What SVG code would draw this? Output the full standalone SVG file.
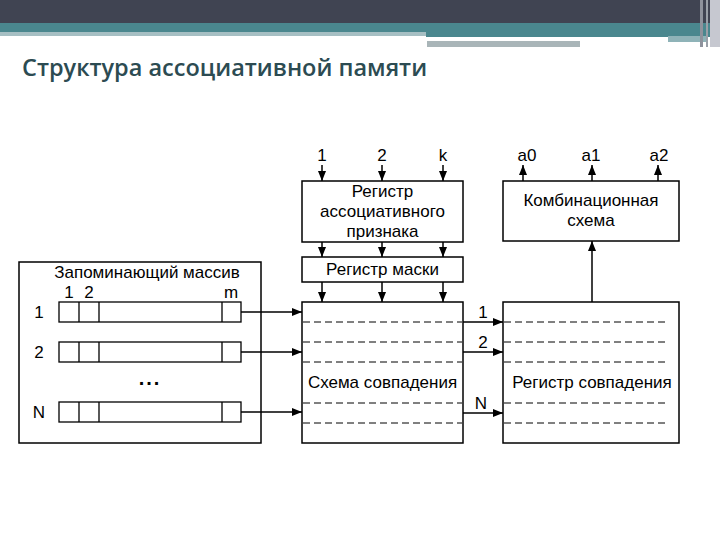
<svg xmlns="http://www.w3.org/2000/svg" width="720" height="540" viewBox="0 0 720 540">
<defs>
<marker id="ah" viewBox="0 0 10 10" refX="10" refY="5" markerWidth="10" markerHeight="10" markerUnits="userSpaceOnUse" orient="auto">
<path d="M0,1 L10,5 L0,9 z" fill="#000"/>
</marker>
<style>
.box{fill:#fff;stroke:#000;stroke-width:1.5}
.cell{fill:none;stroke:#000;stroke-width:1.3}
.t{font-family:"Liberation Sans",Arial,sans-serif;font-size:17px;fill:#000;text-anchor:middle}
.c{stroke:#000;stroke-width:1.5;fill:none;marker-end:url(#ah)}
.d{stroke:#000;stroke-width:1;stroke-dasharray:7,4;fill:none}
</style>
</defs>
<rect width="720" height="540" fill="#fff"/>
<g id="header">
<rect x="0" y="0" width="720" height="23" fill="#404452"/>
<rect x="0" y="23" width="720" height="11" fill="#4a878e"/>
<rect x="0" y="32" width="426" height="4" fill="#a6bfc3"/>
<rect x="426" y="34" width="284" height="3" fill="#4a878e"/>
<rect x="427" y="37" width="241" height="3" fill="#ffffff"/>
<rect x="668" y="36" width="40" height="6" fill="#8fb3b8"/>
<rect x="427" y="41" width="153" height="6" fill="#a9b5b8"/>
<rect x="700" y="0" width="3" height="47" fill="#8e929c"/>
<rect x="706" y="0" width="2" height="47" fill="#9aa0a8"/>
<rect x="710" y="0" width="10" height="47" fill="#c6c8d0"/>
</g>
<text x="22" y="76" font-family="'Open Sans','Noto Sans',sans-serif" font-weight="600" font-size="23.5" fill="#2c4b52">Структура ассоциативной памяти</text>

<g id="reg-assoc">
<rect class="box" x="302" y="181" width="161" height="61"/>
<text class="t" x="382.5" y="197">Регистр</text>
<text class="t" x="382.5" y="217">ассоциативного</text>
<text class="t" x="382.5" y="237">признака</text>
</g>
<g id="reg-mask">
<rect class="box" x="302" y="257" width="161" height="25"/>
<text class="t" x="382.5" y="275">Регистр маски</text>
</g>
<g id="match-scheme">
<rect class="box" x="302" y="302" width="161" height="141"/>
<line class="d" x1="303" y1="322" x2="462" y2="322"/>
<line class="d" x1="303" y1="342" x2="462" y2="342"/>
<line class="d" x1="303" y1="362" x2="462" y2="362"/>
<line class="d" x1="303" y1="403" x2="462" y2="403"/>
<line class="d" x1="303" y1="423" x2="462" y2="423"/>
<text class="t" x="382.5" y="388">Схема совпадения</text>
</g>
<g id="match-reg">
<rect class="box" x="503" y="302" width="176" height="141"/>
<line class="d" x1="504" y1="322" x2="668" y2="322"/>
<line class="d" x1="504" y1="342" x2="668" y2="342"/>
<line class="d" x1="504" y1="362" x2="668" y2="362"/>
<line class="d" x1="504" y1="403" x2="668" y2="403"/>
<line class="d" x1="504" y1="423" x2="668" y2="423"/>
<text class="t" x="592" y="388">Регистр совпадения</text>
</g>
<g id="comb">
<rect class="box" x="503" y="181" width="176" height="60"/>
<text class="t" x="591" y="206">Комбинационная</text>
<text class="t" x="591" y="226">схема</text>
</g>
<g id="memory">
<rect class="box" x="19" y="262" width="242" height="181"/>
<text class="t" x="147" y="278">Запоминающий массив</text>
<text class="t" x="69" y="298">1</text>
<text class="t" x="89" y="298">2</text>
<text class="t" x="231" y="298">m</text>
<text class="t" x="39" y="318">1</text>
<text class="t" x="39" y="358">2</text>
<text class="t" x="39" y="418">N</text>
<rect class="cell" x="59" y="302" width="182" height="20"/>
<path class="cell" d="M79,302V322M99,302V322M222,302V322"/>
<rect class="cell" x="59" y="342" width="182" height="20"/>
<path class="cell" d="M79,342V362M99,342V362M222,342V362"/>
<rect class="cell" x="59" y="402" width="182" height="20"/>
<path class="cell" d="M79,402V422M99,402V422M222,402V422"/>
<text x="150" y="385" font-family="'Liberation Sans',Arial,sans-serif" font-size="20" font-weight="bold" text-anchor="middle" letter-spacing="2">...</text>
</g>

<g id="connectors">
<line class="c" x1="322" y1="165" x2="322" y2="181"/>
<line class="c" x1="382" y1="165" x2="382" y2="181"/>
<line class="c" x1="443" y1="165" x2="443" y2="181"/>
<line class="c" x1="322" y1="242" x2="322" y2="257"/>
<line class="c" x1="382" y1="242" x2="382" y2="257"/>
<line class="c" x1="443" y1="242" x2="443" y2="257"/>
<line class="c" x1="322" y1="282" x2="322" y2="302"/>
<line class="c" x1="382" y1="282" x2="382" y2="302"/>
<line class="c" x1="443" y1="282" x2="443" y2="302"/>
<line class="c" x1="241" y1="312" x2="302" y2="312"/>
<line class="c" x1="241" y1="352" x2="302" y2="352"/>
<line class="c" x1="241" y1="412" x2="302" y2="412"/>
<line class="c" x1="463" y1="322" x2="503" y2="322"/>
<line class="c" x1="463" y1="352" x2="503" y2="352"/>
<line class="c" x1="463" y1="413" x2="503" y2="413"/>
<line class="c" x1="592" y1="302" x2="592" y2="241"/>
<line class="c" x1="523" y1="181" x2="523" y2="165"/>
<line class="c" x1="592" y1="181" x2="592" y2="165"/>
<line class="c" x1="658" y1="181" x2="658" y2="165"/>
</g>
<g id="labels">
<text class="t" x="322" y="161">1</text>
<text class="t" x="382" y="161">2</text>
<text class="t" x="443" y="161">k</text>
<text class="t" x="527" y="161">a0</text>
<text class="t" x="591" y="161">a1</text>
<text class="t" x="659" y="161">a2</text>
<text class="t" x="483" y="318">1</text>
<text class="t" x="483" y="348">2</text>
<text class="t" x="481" y="409">N</text>
</g>
</svg>
